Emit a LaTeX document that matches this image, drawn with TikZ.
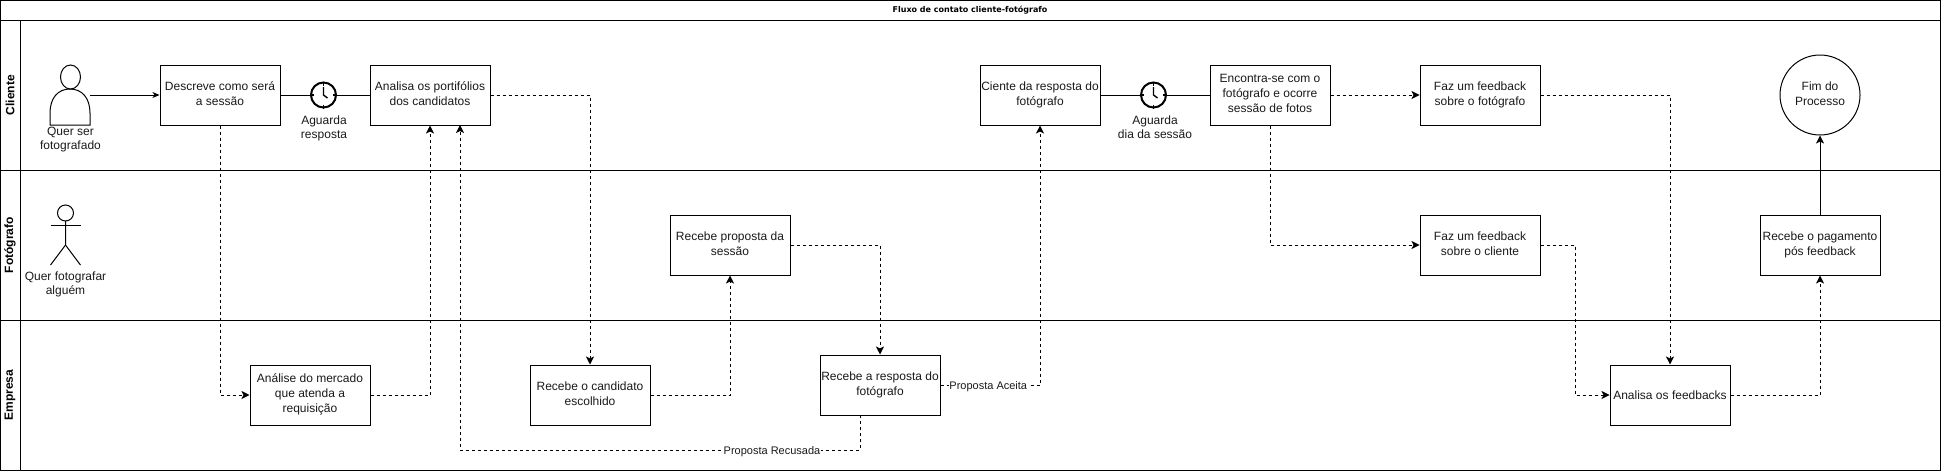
\documentclass[tikz,border=0pt]{standalone}
\usepackage{fontspec}
\setmainfont{Liberation Sans}
\newfontfamily\titlefont{DejaVu Sans}
\usetikzlibrary{arrows.meta,positioning}
\definecolor{txt}{HTML}{1A1A1A}
\newcommand{\topst}{\rule{0pt}{12pt}}
\newcommand{\botst}{\rule[-3pt]{0pt}{3pt}}
\tikzset{
  x=1pt,y=-1pt,
  line width=1pt,
  lane/.style={draw,line width=1pt},
  struts/.style={execute at begin node=\topst,execute at end node=\botst},
  task/.style={draw,line width=1pt,fill=white,minimum width=120pt,minimum height=60pt,inner sep=1pt,align=center,font=\fontsize{12}{15}\selectfont,text=txt,struts},
  plain/.style={inner sep=0pt,align=center,font=\fontsize{12}{14}\selectfont,text=txt,struts},
  lanelabel/.style={rotate=90,inner sep=0pt,font=\fontsize{12}{14}\selectfont\bfseries},
  edgelabel/.style={fill=white,inner xsep=0.5pt,inner ysep=0pt,font=\fontsize{11}{14}\selectfont,text=txt,struts},
  solidflow/.style={draw,line width=1pt,-{Stealth[length=7pt,width=6pt,inset=2pt]}},
  flow/.style={draw,line width=1pt,dash pattern=on 3pt off 3pt,-{Stealth[length=8pt,width=8pt,inset=2pt]}},
  timer/.style={circle,draw,line width=2pt,minimum size=25pt,inner sep=0pt,fill=white},
  endnode/.style={circle,draw,line width=1pt,minimum size=80pt,inner sep=0pt,align=center,font=\fontsize{12}{15}\selectfont,text=txt,struts},
}
\newcommand{\clockhands}[1]{%
  \draw[line width=1.4pt] (#1)++(0,-8) -- ++(0,8) -- ++(4,3);
  \foreach \a in {0,90,180,270}{\draw[line width=1.2pt] (#1)++(\a:9.5pt) -- ++(\a:4pt);}
}
\begin{document}
\begin{tikzpicture}
\useasboundingbox (0,0) rectangle (1942,472);
% pool
\draw[lane] (0.5,0.5) rectangle (1940,470);
\draw[lane] (0.5,20) -- (1940,20);
\draw[lane] (0.5,170) -- (1940,170);
\draw[lane] (0.5,320) -- (1940,320);
\draw[lane] (20,20) -- (20,470);
\node[inner sep=0pt,font=\fontsize{8}{10}\titlefont\bfseries] (title) at (970,10) {Fluxo de contato cliente-fotógrafo};
\node[lanelabel] (l1) at (10,95) {Cliente};
\node[lanelabel] (l2) at (10,245) {Fotógrafo};
\node[lanelabel] (l3) at (10,395) {Empresa};
% tasks
\node[task] (descreve) at (220,95) {Descreve como será\\a sessão};
\node[task] (analisa) at (430,95) {Analisa os portifólios\\dos candidatos};
\node[task] (mercado) at (310,395) {Análise do mercado\\que atenda a\\requisição};
\node[task] (candidato) at (590,395) {Recebe o candidato\\escolhido};
\node[task] (proposta) at (730,245) {Recebe proposta da\\sessão};
\node[task] (resposta) at (880,385) {Recebe a resposta do\\fotógrafo};
\node[task] (ciente) at (1040,95) {Ciente da resposta do\\fotógrafo};
\node[task] (encontra) at (1270,95) {Encontra-se com o\\fotógrafo e ocorre\\sessão de fotos};
\node[task] (fbfoto) at (1480,95) {Faz um feedback\\sobre o fotógrafo};
\node[task] (fbcli) at (1480,245) {Faz um feedback\\sobre o cliente};
\node[task] (feedbacks) at (1670,395) {Analisa os feedbacks};
\node[task] (pagamento) at (1820,245) {Recebe o pagamento\\pós feedback};
\node[endnode] (fim) at (1820,95) {Fim do\\Processo};
% timers
\coordinate (c1) at (323.5,95);
\coordinate (c2) at (1153.5,95);
\draw[line width=1pt] (descreve.east) -- (analisa.west);
\draw[line width=1pt] (ciente.east) -- (encontra.west);
\node[timer] (t1) at (c1) {};
\node[timer] (t2) at (c2) {};
\clockhands{c1}
\clockhands{c2}
\node[plain] (t1l) at (324,128.5) {Aguarda\\resposta};
\node[plain] (t2l) at (1155,128.5) {Aguarda\\dia da sessão};
% client actor
\draw[line width=1pt] (50,125) -- (50,113) .. controls (50,98) and (58,89) .. (70,89) .. controls (82,89) and (90,98) .. (90,113) -- (90,125) -- cycle;
\draw[line width=1pt,fill=white] (70.5,77) ellipse [x radius=10pt,y radius=12pt];
\node[plain] (pl) at (70.5,139.5) {Quer ser\\fotografado};
\coordinate (pout) at (90,95);
\draw[solidflow] (pout) -- (descreve.west);
% stick actor
\draw[line width=1pt] (65.5,213) circle [radius=8pt];
\draw[line width=1pt] (65.5,221) -- (65.5,245) -- (50.5,265);
\draw[line width=1pt] (65.5,245) -- (80.5,265);
\draw[line width=1pt] (50.5,225) -- (80.5,225);
\node[plain] (sl) at (65.5,284.5) {Quer fotografar\\alguém};
% flows
\draw[flow] (descreve.south) |- (mercado.west);
\draw[flow] (mercado.east) -| (analisa.south);
\draw[flow] (analisa.east) -| (candidato.north);
\draw[flow] (candidato.east) -| (proposta.south);
\draw[flow] (proposta.east) -| (resposta.north);
\draw[flow] (resposta.east) -| node[edgelabel,pos=0.24] (la) {Proposta Aceita} (ciente.south);
\coordinate (rb) at (860,415);
\coordinate (ab) at (460,125);
\coordinate (rm) at (860,450);
\coordinate (am) at (460,450);
\draw[flow] (rb) -- (rm) -- node[edgelabel,pos=0.22] (lr) {Proposta Recusada} (am) -- (ab);
\draw[flow] (encontra.east) -- (fbfoto.west);
\draw[flow] (encontra.south) |- (fbcli.west);
\draw[flow] (fbfoto.east) -| (feedbacks.north);
\coordinate (m1) at (1575,245);
\coordinate (m2) at (1575,395);
\draw[flow] (fbcli.east) -- (m1) -- (m2) -- (feedbacks.west);
\draw[flow] (feedbacks.east) -| (pagamento.south);
\draw[line width=1pt,-{Stealth[length=8pt,width=8pt,inset=2pt]}] (pagamento.north) -- (fim.south);
\end{tikzpicture}
\end{document}
